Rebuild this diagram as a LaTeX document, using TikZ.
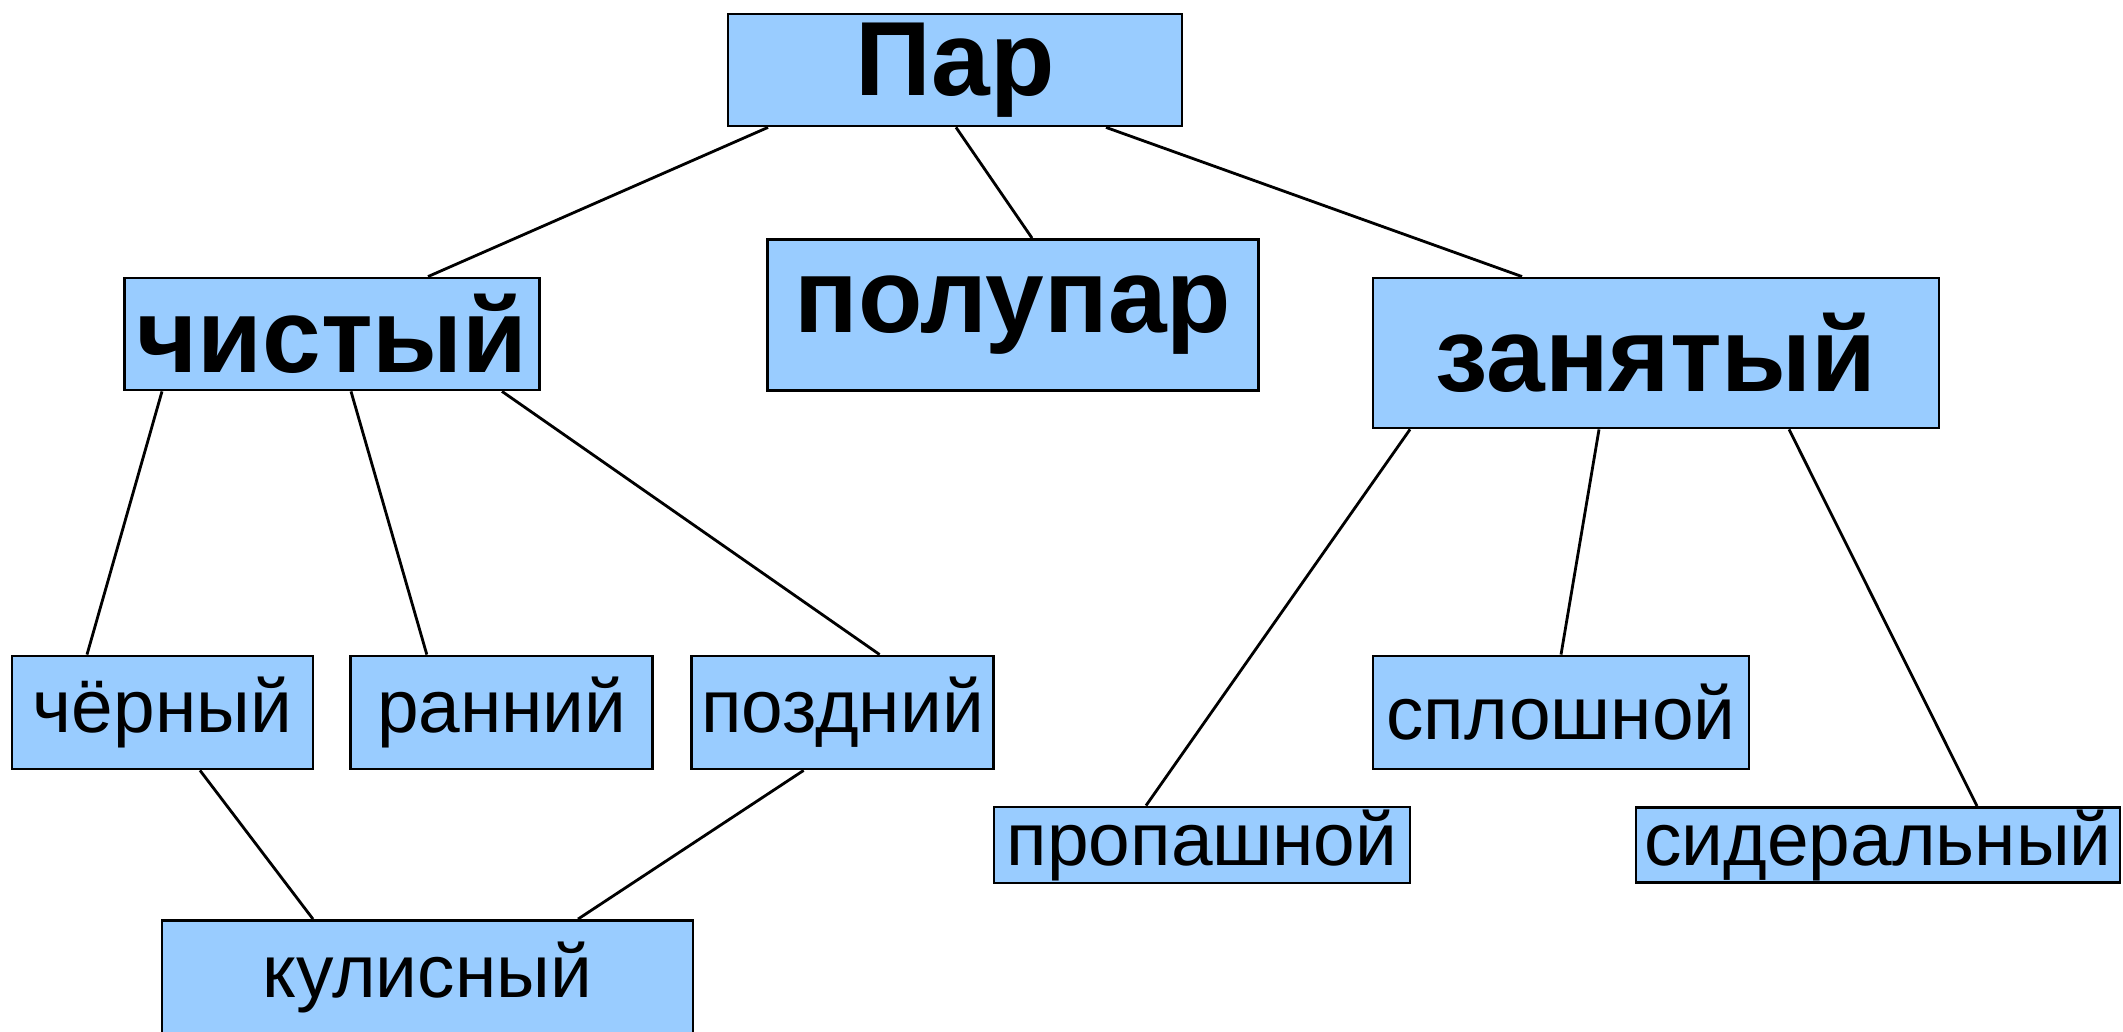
\documentclass[tikz,border=0pt]{standalone}
\usepackage{fontspec}
\setmainfont{Liberation Sans}
\usepackage{xcolor}
\usepackage{tikz}
\usetikzlibrary{calc, positioning}
\definecolor{boxblue}{HTML}{99CCFF}
\tikzset{
    kind/.style={rectangle, draw=black, line width=0.8pt, fill=boxblue, align=center, inner sep=0pt, font=\fontsize{30}{36}\selectfont\bfseries},
    sort/.style={rectangle, draw=black, line width=0.8pt, fill=boxblue, align=center, inner sep=0pt, minimum height=1.13cm, font=\fontsize{21.3}{26}\selectfont},
    link/.style={line width=0.8pt}
}
\begin{document}
\begin{tikzpicture}
        \clip (0,0) rectangle (21.23,10.31);

        % top
        \node[kind, minimum width=4.54cm, minimum height=1.12cm] (Par) at (9.55,9.61) {Пар};

        % second row
        \node[kind, minimum width=4.15cm, minimum height=1.12cm] (Chist) at (3.32,6.97) {чистый};
        \node[kind, minimum width=4.91cm, minimum height=1.51cm] (Polupar) at (10.13,7.16) {полупар};
        \node[kind, minimum width=5.66cm, minimum height=1.50cm] (Zanyat) at (16.56,6.78) {занятый};

        % kinds of clean fallow
        \node[sort, minimum width=3.01cm] (Chern) at (1.625,3.185) {чёрный};
        \node[sort, minimum width=3.02cm, right=0.35cm of Chern] (Ranniy) {ранний};
        \node[sort, minimum width=3.02cm, right=0.36cm of Ranniy] (Pozdn) {поздний};
        \node[sort, minimum width=5.31cm] (Kulis) at (4.275,0.54) {кулисный};

        % kinds of occupied fallow
        \node[sort, minimum width=3.76cm] (Splosh) at (15.61,3.185) {сплошной};
        \node[sort, minimum width=4.16cm, minimum height=0.76cm] (Propash) at (12.02,1.86) {пропашной};
        \node[sort, minimum width=4.84cm, minimum height=0.75cm] (Sider) at (18.78,1.86) {сидеральный};

        \draw[link] ([xshift=-1.87cm]Par.south) -- ([xshift=0.96cm]Chist.north);
        \draw[link] ([xshift=0.01cm]Par.south) -- ([xshift=0.19cm]Polupar.north);
        \draw[link] ([xshift=1.51cm]Par.south) -- ([xshift=-1.34cm]Zanyat.north);

        \draw[link] ([xshift=-1.70cm]Chist.south) -- ([xshift=-0.755cm]Chern.north);
        \draw[link] ([xshift=0.19cm]Chist.south) -- ([xshift=-0.75cm]Ranniy.north);
        \draw[link] ([xshift=1.70cm]Chist.south) -- ([xshift=0.37cm]Pozdn.north);

        \draw[link] ([xshift=-2.46cm]Zanyat.south) -- ([xshift=-0.56cm]Propash.north);
        \draw[link] ([xshift=-0.57cm]Zanyat.south) -- (Splosh.north);
        \draw[link] ([xshift=1.33cm]Zanyat.south) -- ([xshift=0.99cm]Sider.north);

        \draw[link] ([xshift=0.375cm]Chern.south) -- ([xshift=-1.145cm]Kulis.north);
        \draw[link] ([xshift=-0.39cm]Pozdn.south) -- ([xshift=1.505cm]Kulis.north);
    \end{tikzpicture}
\end{document}
